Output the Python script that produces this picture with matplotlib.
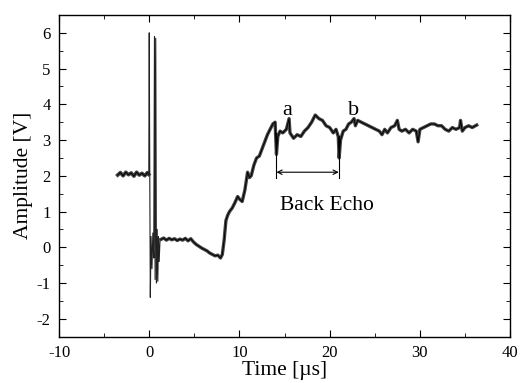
import matplotlib
matplotlib.use("Agg")
import matplotlib.pyplot as plt
from matplotlib.ticker import MultipleLocator

plt.rcParams['font.family'] = ['Liberation Serif', 'DejaVu Serif']
plt.rcParams['axes.unicode_minus'] = False

# baseline before the excitation pulse
t_pre = [-3.5, -3.2, -2.9, -2.6, -2.3, -2.0, -1.7, -1.4, -1.1, -0.8, -0.5, -0.2, -0.05]
v_pre = [2.02, 2.09, 2.0, 2.1, 2.03, 2.08, 1.99, 2.1, 2.02, 2.07, 2.0, 2.09, 2.04]

# excitation burst
t_burst = [-0.05, 0.0, 0.05, 0.12, 0.2, 0.3, 0.4, 0.5, 0.58, 0.65, 0.72, 0.8,
           0.88, 0.95, 1.02, 1.1, 1.2, 1.3]
v_burst = [2.04, 6.0, 2.5, -1.4, 0.3, -0.6, 0.4, -0.3, 5.9, -0.9, 5.85, -1.0,
           0.5, -0.95, 0.3, -0.4, 0.25, 0.22]

# received signal
t_main = [1.3, 1.6, 1.9, 2.2, 2.5, 2.8, 3.1, 3.4, 3.7, 4.0, 4.3, 4.6, 4.9, 5.2,
          5.5, 5.8, 6.1, 6.4, 6.7, 7.0, 7.3, 7.6, 7.9, 8.1, 8.3, 8.5, 8.7, 8.9,
          9.2, 9.5, 9.8, 10.0, 10.3, 10.6, 10.9, 11.1, 11.3, 11.6, 11.9, 12.2,
          12.5, 12.8, 13.1, 13.4, 13.7, 13.95, 14.1, 14.25, 14.5, 14.8, 15.2,
          15.5, 15.6, 16.0, 16.4, 16.8, 17.2, 17.6, 18.0, 18.4, 18.8, 19.2,
          19.6, 20.0, 20.4, 20.7, 20.95, 21.05, 21.2, 21.5, 21.8, 22.1, 22.4,
          22.7, 22.85, 23.1, 23.5, 23.9, 24.3, 24.7, 25.1, 25.5, 25.8, 26.1,
          26.4, 26.8, 27.2, 27.5, 27.7, 28.0, 28.4, 28.8, 29.2, 29.6, 29.8,
          30.0, 30.4, 30.8, 31.2, 31.6, 32.0, 32.4, 32.8, 33.2, 33.6, 34.0,
          34.4, 34.5, 34.7, 35.0, 35.4, 35.8, 36.3]
v_main = [0.22, 0.26, 0.2, 0.25, 0.21, 0.24, 0.19, 0.23, 0.2, 0.25, 0.18, 0.24,
          0.15, 0.08, 0.03, -0.02, -0.06, -0.1, -0.16, -0.2, -0.24, -0.22, -0.3,
          -0.2, 0.2, 0.75, 0.9, 1.0, 1.1, 1.25, 1.42, 1.35, 1.28, 1.6, 2.1,
          1.95, 2.0, 2.3, 2.5, 2.55, 2.75, 2.95, 3.15, 3.3, 3.45, 3.5, 2.6,
          3.1, 3.25, 3.2, 3.3, 3.6, 3.2, 3.05, 3.15, 3.1, 3.25, 3.35, 3.5, 3.7,
          3.6, 3.55, 3.4, 3.35, 3.2, 3.3, 3.1, 2.5, 3.0, 3.25, 3.3, 3.45, 3.5,
          3.6, 3.4, 3.55, 3.5, 3.45, 3.4, 3.35, 3.3, 3.25, 3.15, 3.3, 3.2,
          3.35, 3.4, 3.55, 3.3, 3.25, 3.3, 3.2, 3.3, 3.25, 2.95, 3.3, 3.35,
          3.4, 3.45, 3.45, 3.4, 3.4, 3.3, 3.25, 3.35, 3.3, 3.35, 3.55, 3.25,
          3.35, 3.4, 3.35, 3.42]

# back echo bracket
echo_a = 14.1
echo_b = 21.0

fig = plt.figure(figsize=(5.2, 3.83), dpi=100)
ax = fig.add_axes([0.1135, 0.121, 0.8675, 0.84])

ax.plot(t_pre, v_pre, color="#444444", lw=2.6, solid_joinstyle="round")
ax.plot(t_pre, v_pre, color="black", lw=0.7)
ax.plot(t_burst, v_burst, color="#222222", lw=0.8)
ax.plot(t_main, v_main, color="#444444", lw=2.4, solid_joinstyle="round")
ax.plot(t_main, v_main, color="black", lw=0.7)

ax.plot([echo_a, echo_a], [3.2, 1.95], color="black", lw=0.8)
ax.plot([echo_b, echo_b], [3.1, 1.95], color="black", lw=0.8)
ax.annotate("", xy=(echo_a, 2.1), xytext=(echo_b, 2.1),
            arrowprops=dict(arrowstyle="<->", color="black", lw=0.8,
                            shrinkA=0, shrinkB=0, mutation_scale=8))

ax.text(15.3, 3.71, "a", fontsize=16, ha="center", va="baseline")
ax.text(22.6, 3.71, "b", fontsize=16, ha="center", va="baseline")
ax.text(19.7, 1.03, "Back Echo", fontsize=15.5, ha="center", va="baseline")

ax.set_xlim(-10, 40)
ax.set_ylim(-2.5, 6.5)
ax.xaxis.set_major_locator(MultipleLocator(10))
ax.xaxis.set_minor_locator(MultipleLocator(5))
ax.yaxis.set_major_locator(MultipleLocator(1))
ax.yaxis.set_minor_locator(MultipleLocator(0.5))
ax.tick_params(which="both", direction="in", top=True, right=True, labelsize=12)
ax.tick_params(which="major", length=5)
ax.tick_params(which="minor", length=3)
ax.tick_params(axis="x", which="major", pad=6)
ax.tick_params(axis="y", which="major", pad=6)
for s in ax.spines.values():
    s.set_linewidth(1.0)

ax.set_xlabel("Time [\u00b5s]", fontsize=15.5, labelpad=0)
ax.set_ylabel("Amplitude [V]", fontsize=15.5, labelpad=3)

fig.savefig("out.png", dpi=100)
